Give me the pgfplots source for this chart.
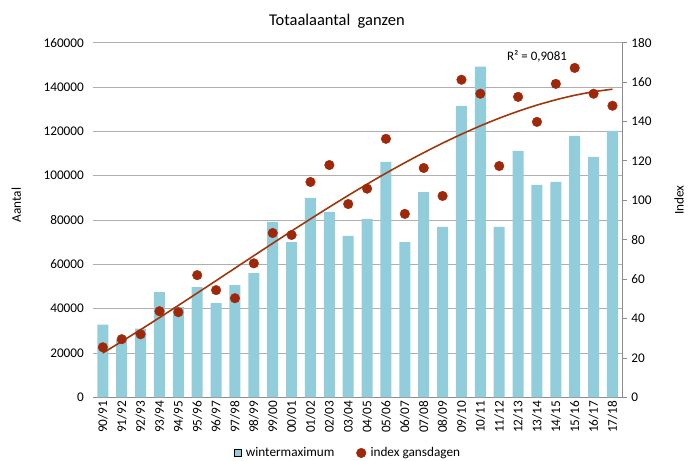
\documentclass[border=0pt]{standalone}
\usepackage{pgfplots}
\pgfplotsset{compat=1.18}
\usepackage{fontspec}
\setmainfont{Carlito}
\definecolor{barblue}{RGB}{146,205,220}
\definecolor{dotred}{RGB}{160,40,10}
\definecolor{trendc}{RGB}{160,55,10}
\definecolor{gridgray}{RGB}{175,175,175}
\definecolor{axgray}{RGB}{140,140,140}
\begin{document}
\begin{tikzpicture}[font=\fontsize{13.3}{15}\selectfont]
\path[use as bounding box] (-93.4bp,-63.7bp) rectangle (603.6bp,397.3bp);
\begin{axis}[
  at={(0,0)}, anchor=south west,
  scale only axis, width=528.5bp, height=354.6bp,
  xmin=-0.5, xmax=27.5, ymin=0, ymax=160000,
  axis lines*=left,
  y axis line style={draw=none},
  x axis line style={axgray, line width=0.8pt},
  xtick={0,...,27},
  xticklabels={90/91,91/92,92/93,93/94,94/95,95/96,96/97,97/98,98/99,99/00,00/01,01/02,02/03,03/04,04/05,05/06,06/07,07/08,08/09,09/10,10/11,11/12,12/13,13/14,14/15,15/16,16/17,17/18},
  x tick label style={rotate=90, anchor=east, font=\fontsize{13.3}{15}\selectfont},
  major tick length=0pt,
  ytick={0,20000,...,160000},
  scaled y ticks=false,
  y tick label style={/pgf/number format/fixed, /pgf/number format/1000 sep={}, xshift=-6bp, font=\fontsize{13.3}{15}\selectfont},
  /pgf/number format/assume math mode=true,
  ymajorgrids, grid style={gridgray, line width=0.8pt},
  ylabel={Aantal},
  ylabel style={at={(axis description cs:-0.146,0.542)}, anchor=center, font=\fontsize{13.3}{15}\selectfont},
]
\addplot[ybar, bar width=11bp, fill=barblue, draw=none] coordinates {
(0,32800) (1,26000) (2,31000) (3,47400) (4,40700) (5,49700) (6,42500) (7,50600)
(8,56000) (9,79100) (10,70000) (11,90000) (12,83700) (13,72800) (14,80500) (15,106200)
(16,70000) (17,92600) (18,76900) (19,131500) (20,149200) (21,76900) (22,111200) (23,95800)
(24,97200) (25,118000) (26,108500) (27,120200)};
\end{axis}
\begin{axis}[
  at={(0,0)}, anchor=south west,
  scale only axis, width=528.5bp, height=354.6bp,
  xmin=-0.5, xmax=27.5, ymin=0, ymax=180,
  axis x line=none,
  axis y line*=right,
  y axis line style={axgray, line width=0.8pt},
  ytick={0,20,...,180},
  ytick style={axgray, line width=0.8pt},
  tick align=outside, major tick length=5bp,
  y tick label style={xshift=1bp, font=\fontsize{13.3}{15}\selectfont},
  /pgf/number format/assume math mode=true,
  ylabel={Index},
  ylabel style={at={(axis description cs:1.108,0.556)}, anchor=center, rotate=0, font=\fontsize{13.3}{15}\selectfont},
  legend style={draw=none, at={(0.482,-0.157)}, anchor=center, legend columns=2,
    /tikz/every even column/.append style={column sep=20bp}, font=\fontsize{13.3}{15}\selectfont,
    /tikz/every odd column/.append style={column sep=2.5bp}},
  legend image code/.code={\draw[#1] plot coordinates {(0.2cm,0cm)};},
  legend entries={wintermaximum, index gansdagen},
]
\addlegendimage{only marks, mark=square*, mark size=3.6bp, mark options={fill=barblue, draw=none}}
\addplot[trendc, line width=1.6pt, smooth, forget plot] coordinates {
(0,22.5) (1,28.34) (2,34.33) (3,40.43) (4,46.63) (5,52.90) (6,59.21) (7,65.54)
(8,71.87) (9,78.15) (10,84.38) (11,90.52) (12,96.56) (13,102.46) (14,108.19) (15,113.75)
(16,119.08) (17,124.17) (18,129.01) (19,133.55) (20,137.78) (21,141.67) (22,145.19) (23,148.32)
(24,151.02) (25,153.30) (26,155.10) (27,156.40)};
\addplot[only marks, mark=*, mark size=4.8bp, mark options={fill=dotred, draw=dotred}] coordinates {
(0,25.4) (1,29.5) (2,32) (3,43.7) (4,43.2) (5,62) (6,54.4) (7,50.3)
(8,68) (9,83.4) (10,82.4) (11,109.3) (12,117.9) (13,98.1) (14,105.9) (15,131.2)
(16,93.1) (17,116.4) (18,102.2) (19,161.2) (20,154.1) (21,117.4) (22,152.5) (23,139.8)
(24,159.1) (25,167.2) (26,154.1) (27,148)};
\end{axis}
\node at (243.5bp,376bp) {\fontsize{16.5}{19}\selectfont Totaalaantal\ \ ganzen};
\node at (443.6bp,340.6bp) {\fontsize{13}{15}\selectfont R² = 0,9081};
\end{tikzpicture}
\end{document}
